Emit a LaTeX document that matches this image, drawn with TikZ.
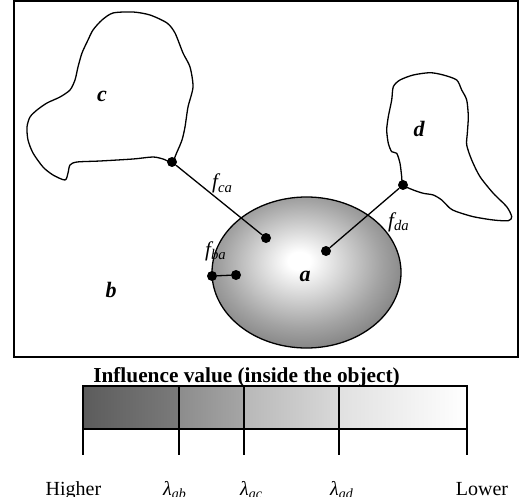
\documentclass[tikz,border=0pt]{standalone}
\usepackage{fontspec}
\setmainfont{Liberation Serif}
\usetikzlibrary{shapes.geometric}
\definecolor{edgegray}{gray}{0.38}
\definecolor{midgray}{gray}{0.64}
\pgfdeclareradialshading{aball}{\pgfpoint{-2bp}{4bp}}{color(0bp)=(white); color(3bp)=(white); color(21bp)=(midgray); color(36bp)=(edgegray); color(70bp)=(edgegray)}
\definecolor{g1a}{gray}{0.36}\definecolor{g1b}{gray}{0.48}
\definecolor{g2a}{gray}{0.55}\definecolor{g2b}{gray}{0.65}
\definecolor{g3a}{gray}{0.72}\definecolor{g3b}{gray}{0.85}
\definecolor{g4a}{gray}{0.88}\definecolor{g4b}{gray}{1.0}
\tikzset{
  outline/.style={line width=1.3bp, line join=round},
  dot/.style={circle, fill=black, inner sep=0pt, minimum size=10bp},
  objlbl/.style={font=\fontsize{22bp}{26bp}\selectfont\bfseries\itshape, inner sep=0pt, anchor=base},
  flbl/.style={font=\fontsize{21bp}{25bp}\selectfont\itshape, inner sep=0pt, anchor=base west},
  scalelbl/.style={font=\fontsize{20bp}{24bp}\selectfont, inner sep=0pt, anchor=base},
  titlelbl/.style={font=\fontsize{21.3bp}{25bp}\selectfont\bfseries, inner sep=0pt, anchor=base},
  barline/.style={line width=1.5bp}
}
\begin{document}
\begin{tikzpicture}[x=1bp, y=-1bp]
\useasboundingbox (0,0) rectangle (521,497);
% frame
\draw[line width=1.5bp] (14,1) rectangle (518,357);
% object c
\draw[outline] plot[smooth cycle, tension=0.45] coordinates {(172,162) (177,152) (182,140) (185,127) (188,107) (193,87) (190,67) (183,53) (175,33) (167,23) (150,15) (133,12) (113,13) (102,20) (93,30) (88,40) (82,53) (78,67) (75,80) (70,90) (60,97) (47,103) (37,110) (30,117) (27,127) (28,140) (33,153) (43,167) (53,175) (65,180) (68,173) (70,165) (77,162) (100,161) (133,159) (153,157) (163,159)};
% object d
\draw[outline] plot[smooth cycle, tension=0.45] coordinates {(403,185) (401.7,176.7) (400,163.3) (396.7,153.3) (391.7,151.7) (388.3,143.3) (386.7,130) (388.3,116.7) (391.7,100) (393.3,86.7) (400,80) (413.3,75) (430,72.7) (443.3,75) (456.7,80) (461.7,90) (466.7,100) (468.3,116.7) (467.3,133.3) (466.7,145) (471.7,160) (480,176.7) (493.3,193.3) (506.7,206.7) (511.7,216.7) (508.3,220.7) (493.3,220) (473.3,216.7) (456.7,211.7) (450,208.3) (441.7,200) (433.3,195) (423.3,193.3) (413.3,190)};
% object a
\node[ellipse, draw, outline, shading=aball, minimum width=189bp, minimum height=151bp, inner sep=0pt] (a) at (306.5,272.5) {};
% labels
\node[objlbl] (lc) at (102,102) {c};
\node[objlbl] (ld) at (419,137) {d};
\node[objlbl] (la) at (305,281) {a};
\node[objlbl] (lb) at (111,297) {b};
% dots
\node[dot] (pc) at (172,162) {};
\node[dot] (pd) at (403,185) {};
\node[dot] (ic) at (266,238) {};
\node[dot] (id) at (326,251) {};
\node[dot] (pb) at (212,276) {};
\node[dot] (ib) at (236,275) {};
\draw[line width=1.3bp] (pc) -- (ic);
\draw[line width=1.3bp] (pd) -- (id);
\draw[line width=1.3bp] (pb) -- (ib);
\node[flbl] (fca) at (212,189) {f\textsubscript{ca}};
\node[flbl] (fda) at (388,227) {f\textsubscript{da}};
\node[flbl] (fba) at (205,256) {f\textsubscript{ba}};
% scale bar
\node[titlelbl] (title) at (246.5,382) {Influence value (inside the object)};
\shade[left color=g1a, right color=g1b] (83,386) rectangle (179,429);
\shade[left color=g2a, right color=g2b] (179,386) rectangle (244,429);
\shade[left color=g3a, right color=g3b] (244,386) rectangle (339,429);
\shade[left color=g4a, right color=g4b] (339,386) rectangle (467,429);
\draw[barline] (83,386) rectangle (467,429);
\foreach \x in {83,179,244,339,467} {
  \draw[barline] (\x,386) -- (\x,455);
}
\node[scalelbl] (hi) at (73.5,495) {Higher};
\node[scalelbl, anchor=base west] (lab) at (163,495) {\textit{λ}\textsubscript{\textit{ab}}};
\node[scalelbl, anchor=base west] (lac) at (240,495) {\textit{λ}\textsubscript{\textit{ac}}};
\node[scalelbl, anchor=base west] (lad) at (330,495) {\textit{λ}\textsubscript{\textit{ad}}};
\node[scalelbl] (lo) at (482,495) {Lower};
\end{tikzpicture}
\end{document}
